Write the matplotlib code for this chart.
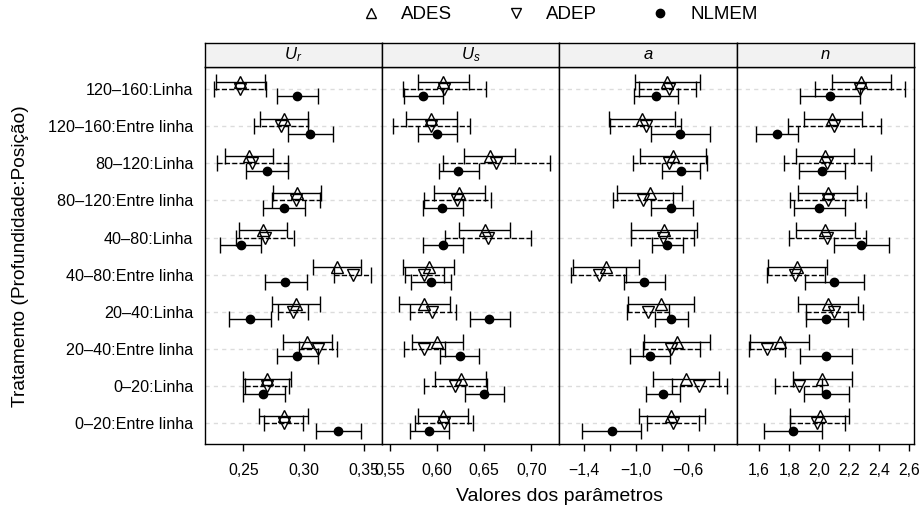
import matplotlib
matplotlib.use("Agg")
import matplotlib.pyplot as plt
from matplotlib.lines import Line2D

plt.rcParams['font.family'] = ['Liberation Sans', 'DejaVu Sans']
plt.rcParams['mathtext.fontset'] = 'custom'
plt.rcParams['mathtext.it'] = 'Liberation Sans:italic'
plt.rcParams['mathtext.rm'] = 'Liberation Sans'

# treatments, top to bottom as drawn
treatments = ["120–160:Linha", "120–160:Entre linha", "80–120:Linha",
              "80–120:Entre linha", "40–80:Linha", "40–80:Entre linha",
              "20–40:Linha", "20–40:Entre linha", "0–20:Linha", "0–20:Entre linha"]

# (lower, estimate, upper) for each treatment
ur_ades = [(0.227, 0.2475, 0.268), (0.264, 0.284, 0.304), (0.235, 0.255, 0.275),
           (0.2746, 0.2945, 0.3147), (0.2464, 0.2663, 0.2865), (0.3078, 0.3274, 0.3476),
           (0.2735, 0.294, 0.3139), (0.2832, 0.3031, 0.3238), (0.2495, 0.2697, 0.2896),
           (0.2633, 0.2838, 0.3037)]
ur_adep = [(0.226, 0.2475, 0.269), (0.2586, 0.281, 0.3034), (0.2284, 0.2572, 0.2868),
           (0.274, 0.294, 0.3136), (0.2437, 0.2677, 0.2918), (0.325, 0.3407, 0.3562),
           (0.2785, 0.2912, 0.3039), (0.2964, 0.3122, 0.3277), (0.2514, 0.2697, 0.2881),
           (0.2669, 0.2835, 0.2993)]
ur_nlmem = [(0.2777, 0.2945, 0.312), (0.2868, 0.3056, 0.3241), (0.2525, 0.2697, 0.2871),
            (0.2661, 0.2835, 0.3012), (0.2309, 0.2478, 0.2649), (0.2677, 0.2848, 0.3026),
            (0.2381, 0.2553, 0.2727), (0.2777, 0.2948, 0.3122), (0.2495, 0.2666, 0.2843),
            (0.3105, 0.3285, 0.3476)]

us_ades = [(0.5795, 0.6067, 0.6337), (0.5667, 0.5936, 0.6206), (0.629, 0.656, 0.683),
           (0.5968, 0.6237, 0.6511), (0.6234, 0.6507, 0.6773), (0.5642, 0.5911, 0.6178),
           (0.5596, 0.5865, 0.6142), (0.5731, 0.6004, 0.6277), (0.5975, 0.6252, 0.6521),
           (0.5795, 0.6064, 0.6333)]
us_adep = [(0.5635, 0.6074, 0.6521), (0.5529, 0.5936, 0.6344), (0.6064, 0.6628, 0.7199),
           (0.5862, 0.6216, 0.6574), (0.6082, 0.6536, 0.6997), (0.5656, 0.5865, 0.6078),
           (0.571, 0.595, 0.6199), (0.5646, 0.5865, 0.6088), (0.5858, 0.6195, 0.6535),
           (0.5769, 0.6074, 0.6376)]
us_nlmem = [(0.5646, 0.5851, 0.6067), (0.5795, 0.6004, 0.6216), (0.6021, 0.6223, 0.6444),
            (0.5851, 0.6057, 0.6273), (0.5855, 0.6067, 0.6277), (0.5727, 0.5936, 0.6149),
            (0.6344, 0.6553, 0.6769), (0.6028, 0.6241, 0.645), (0.6298, 0.6503, 0.6713),
            (0.5716, 0.5915, 0.6124)]

a_ades = [(-1.013, -0.759, -0.508), (-1.210, -0.956, -0.702), (-0.967, -0.715, -0.462),
          (-1.151, -0.897, -0.644), (-1.038, -0.787, -0.531), (-1.49, -1.233, -0.982),
          (-1.064, -0.808, -0.554), (-0.941, -0.685, -0.428), (-0.872, -0.613, -0.359),
          (-0.982, -0.728, -0.467)]
a_adep = [(-0.975, -0.751, -0.536), (-1.202, -0.928, -0.656), (-1.028, -0.744, -0.451),
          (-1.177, -0.946, -0.713), (-1.041, -0.797, -0.554), (-1.502, -1.287, -1.075),
          (-1.069, -0.908, -0.746), (-0.944, -0.728, -0.508), (-0.725, -0.513, -0.298),
          (-0.918, -0.718, -0.515)]
a_nlmem = [(-1.018, -0.846, -0.675), (-0.885, -0.659, -0.431), (-0.8, -0.656, -0.508),
           (-0.887, -0.728, -0.564), (-0.879, -0.759, -0.638), (-1.095, -0.941, -0.779),
           (-0.854, -0.728, -0.598), (-1.049, -0.895, -0.738), (-0.928, -0.797, -0.659),
           (-1.418, -1.19, -0.964)]

n_ades = [(2.085, 2.28, 2.478), (1.896, 2.087, 2.287), (1.845, 2.04, 2.233),
          (1.862, 2.06, 2.253), (1.845, 2.042, 2.238), (1.658, 1.855, 2.051),
          (1.862, 2.062, 2.258), (1.538, 1.738, 1.933), (1.829, 2.022, 2.222),
          (1.809, 2.007, 2.202)]
n_adep = [(1.971, 2.271, 2.573), (1.791, 2.1, 2.415), (1.767, 2.055, 2.345),
          (1.809, 2.06, 2.315), (1.8, 2.053, 2.311), (1.651, 1.842, 2.04),
          (1.911, 2.1, 2.291), (1.531, 1.653, 1.771), (1.707, 1.867, 2.022),
          (1.804, 1.984, 2.175)]
n_nlmem = [(1.871, 2.073, 2.273), (1.578, 1.718, 1.858), (1.867, 2.016, 2.169),
           (1.835, 2.002, 2.169), (2.098, 2.28, 2.467), (1.904, 2.1, 2.3),
           (1.911, 2.044, 2.189), (1.869, 2.044, 2.222), (1.9, 2.047, 2.198),
           (1.631, 1.824, 2.022)]

panel_titles = [r"$U_r$", r"$U_s$", r"$a$", r"$n$"]
panel_data = [(ur_ades, ur_adep, ur_nlmem), (us_ades, us_adep, us_nlmem),
              (a_ades, a_adep, a_nlmem), (n_ades, n_adep, n_nlmem)]
xlims = [(0.2179, 0.365), (0.5415, 0.7298), (-1.592, -0.225), (1.451, 2.633)]
xticks = [[0.25, 0.30, 0.35], [0.55, 0.60, 0.65, 0.70],
          [-1.4, -1.2, -1.0, -0.8, -0.6, -0.4], [1.6, 1.8, 2.0, 2.2, 2.4, 2.6]]
tick_digits = [2, 2, 1, 1]
a_labelled = [-1.4, -1.0, -0.6]


def fmt(v, d):
    return f"{v:.{d}f}".replace(".", ",").replace("-", "\u2212")


fig = plt.figure(figsize=(9.22, 5.12), dpi=100)
left, pw, bottom, ph = 0.2219, 0.1924, 0.1322, 0.7375
strip_h = 0.0469
ypos = [len(treatments) - i for i in range(len(treatments))]

for k in range(4):
    ax = fig.add_axes([left + k * pw, bottom, pw, ph])
    for y in ypos:
        ax.axhline(y, color="#dcdcdc", lw=1.0, ls=(0, (3, 3)), zorder=0)
    ades, adep, nlmem = panel_data[k]
    styles = [(ades, 0.2, "^", "none", 8, "-"),
              (adep, 0.0, "v", "none", 8, "--"),
              (nlmem, -0.2, "o", "black", 6, "-")]
    for rows, off, mk, fc, ms, ls in styles:
        lo = [r[0] for r in rows]
        est = [r[1] for r in rows]
        hi = [r[2] for r in rows]
        err = [[e - l for e, l in zip(est, lo)], [h - e for h, e in zip(hi, est)]]
        eb = ax.errorbar(est, [y + off for y in ypos], xerr=err, fmt=mk, mfc=fc,
                         mec="black", mew=1.0, ms=ms, ecolor="black", elinewidth=1.0,
                         capsize=6, capthick=1.0, zorder=3)
        eb[2][0].set_linestyle(ls)
    ax.set_xlim(*xlims[k])
    ax.set_ylim(0.435, 10.6)
    if k == 2:
        labels = [fmt(v, 1) if any(abs(v - w) < 1e-9 for w in a_labelled) else ""
                  for v in xticks[k]]
    else:
        labels = [fmt(v, tick_digits[k]) for v in xticks[k]]
    ax.set_xticks(xticks[k], labels=labels)
    ax.tick_params(axis="x", direction="out", length=5, width=1.0, pad=8.5,
                   labelsize=11.3)
    if k == 0:
        ax.set_yticks(ypos, labels=treatments)
        ax.tick_params(axis="y", length=0, pad=8, labelsize=11.6)
    else:
        ax.set_yticks([])
    for s in ax.spines.values():
        s.set_linewidth(1.0)

    sax = fig.add_axes([left + k * pw, bottom + ph, pw, strip_h])
    sax.set_facecolor("#f2f2f2")
    sax.set_xticks([])
    sax.set_yticks([])
    for s in sax.spines.values():
        s.set_linewidth(1.0)
    sax.text(0.5, 0.5, panel_titles[k], ha="center", va="center", fontsize=12,
             transform=sax.transAxes)

handles = [Line2D([], [], marker="^", ls="none", mfc="none", mec="black", ms=7),
           Line2D([], [], marker="v", ls="none", mfc="none", mec="black", ms=7),
           Line2D([], [], marker="o", ls="none", mfc="black", mec="black", ms=6)]
fig.legend(handles, ["ADES", "ADEP", "NLMEM"], loc="center",
           bbox_to_anchor=(0.607, 0.971), ncol=3, frameon=False, fontsize=13.5,
           handlelength=1.0, handletextpad=1.1, columnspacing=2.9,
           borderpad=0, borderaxespad=0)

fig.text(left + 2 * pw, 0.031, "Valores dos parâmetros", ha="center", va="center",
         fontsize=14)
fig.text(0.0217, 0.499, "Tratamento (Profundidade:Posição)", ha="center",
         va="center", rotation=90, fontsize=13.8)

fig.savefig("out.png", dpi=100)
